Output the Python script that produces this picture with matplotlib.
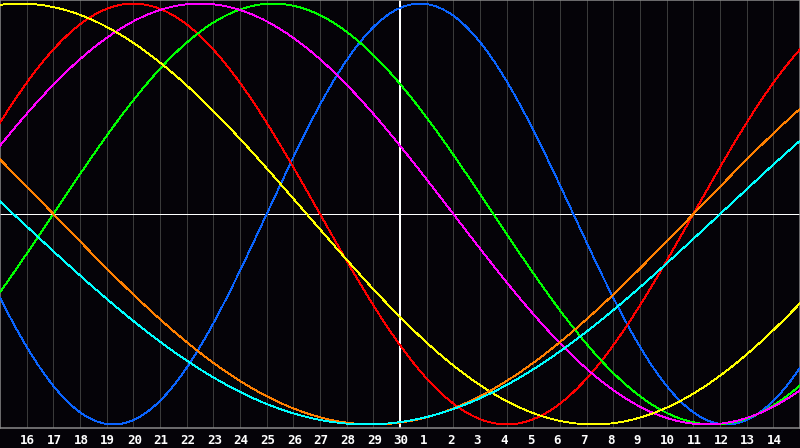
import numpy as np
import matplotlib
matplotlib.use("Agg")
import matplotlib.pyplot as plt
from matplotlib.transforms import blended_transform_factory

# Biorhythm cycles: period in days, and upward zero crossing (days from today)
cycle_names = ["physical", "emotional", "intellectual", "intuitive",
               "aesthetic", "awareness", "spiritual"]
cycle_periods = [23, 28, 33, 38, 43, 48, 53]
cycle_zero_day = [-5, 11, -13, -17, 18, 11, 12]
cycle_colors = ["#0a64ff", "#ff0000", "#00ff00", "#ff00ff",
                "#ffff00", "#ff8000", "#00ffff"]

# day offsets from today (0 = the 30th) and their calendar labels
day_offsets = list(range(-14, 15))
day_labels = [str(d) for d in range(16, 31)] + [str(d) for d in range(1, 15)]

BG = "#050308"
PX = 0.72  # one pixel in points at 100 dpi

fig = plt.figure(figsize=(8, 4.48), dpi=100, facecolor=BG)
ax = fig.add_axes([0, 20 / 448, 1, 428 / 448])
ax.set_facecolor(BG)
ax.set_xlim(-15, 15)
ax.set_ylim(-1.017, 1.017)

# day grid
for d in day_offsets:
    ax.axvline(d, color="#3a3a3a", lw=PX, antialiased=False, zorder=1)

# centre cross
ax.axvline(0, color="white", lw=PX * 1.5, antialiased=False, zorder=2)
ax.axhline(0, color="white", lw=PX, antialiased=False, zorder=2)

t = np.linspace(-15, 15, 1600)
for name, period, zero, color in zip(cycle_names, cycle_periods,
                                     cycle_zero_day, cycle_colors):
    y = np.sin(2 * np.pi * (t - zero) / period)
    ax.plot(t, y, color=color, lw=0.6, antialiased=False, zorder=3, label=name)

for side in ax.spines.values():
    side.set_color("#8c8c8c")
    side.set_linewidth(PX * 1.5)

ax.set_xticks([])
ax.set_yticks([])

label_trans = blended_transform_factory(ax.transData, fig.transFigure)
for d, lab in zip(day_offsets, day_labels):
    ax.text(d - 0.24, 4.5 / 448, lab, transform=label_trans,
            ha="left", va="baseline", color="white", fontsize=9,
            fontweight="bold", family="DejaVu Sans Mono", clip_on=False)

fig.savefig("out.png", dpi=100, facecolor=BG)
